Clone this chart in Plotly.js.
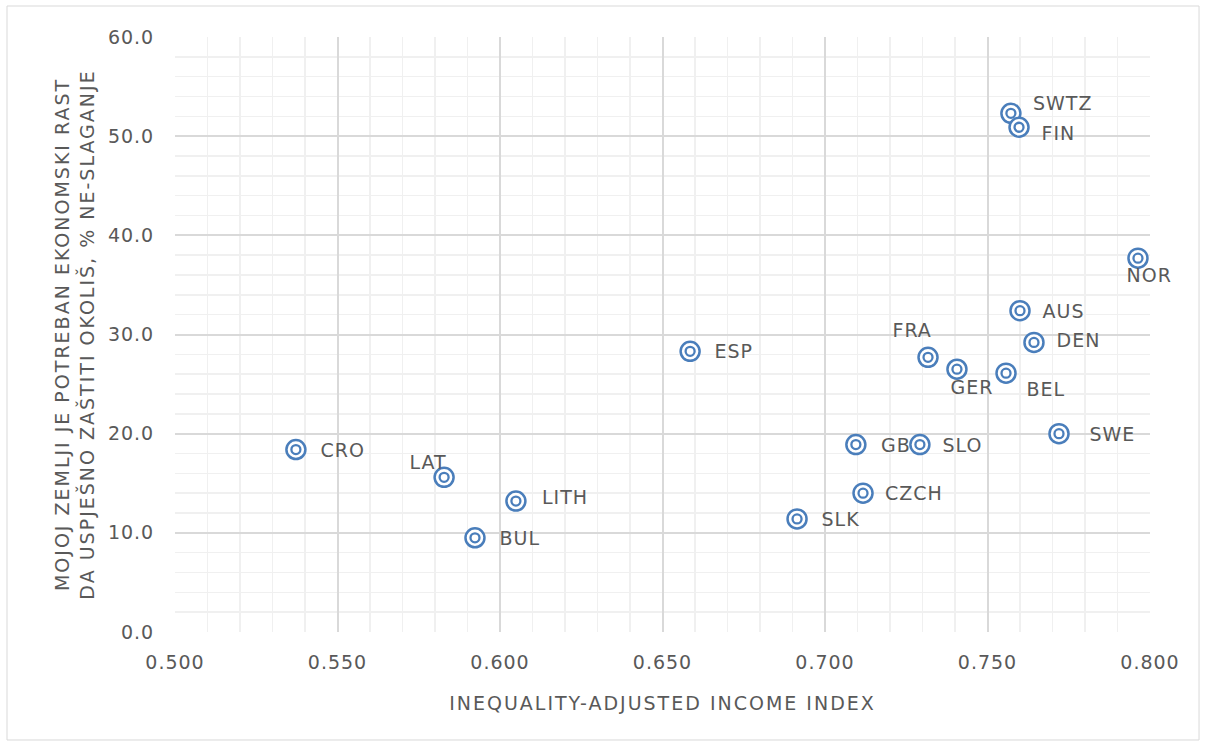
<!DOCTYPE html>
<html>
<head>
<meta charset="utf-8">
<script src="https://cdn.plot.ly/plotly-3.0.1.min.js"></script>
<style>
html,body{margin:0;padding:0;background:#fff;}
#chart{width:1206px;height:745px;}
#chart .xtitle, #chart .ytitle{letter-spacing:2px;}
#chart .xtick text, #chart .ytick text, #chart .annotation-text{letter-spacing:1px;}
</style>
</head>
<body>
<div id="chart"></div>
<script>
var countries = ["SWTZ","FIN","NOR","AUS","DEN","FRA","GER","BEL","SWE","ESP","GB","SLO","CZCH","SLK","CRO","LAT","LITH","BUL"];
var incomeIndex = [0.7572,0.7597,0.7963,0.7600,0.7643,0.7317,0.7406,0.7557,0.7720,0.6585,0.7095,0.7292,0.7117,0.6914,0.5372,0.5828,0.6049,0.5923];
var disagreePct = [52.3,50.9,37.7,32.4,29.2,27.7,26.5,26.1,20.0,28.3,18.9,18.9,14.0,11.4,18.4,15.6,13.2,9.5];

// label placement (style only): [xanchor, xshift, yshift]
var labelPos = {
  "SWTZ":["left",22,10], "FIN":["left",22,-6], "NOR":["center",11,-17],
  "AUS":["left",22,0], "DEN":["left",22,2], "FRA":["center",-16,27],
  "GER":["center",15,-18], "BEL":["center",40,-16], "SWE":["left",30,0],
  "ESP":["left",24,0], "GB":["left",24,0], "SLO":["left",22,0],
  "CZCH":["left",22,0], "SLK":["left",24,0], "CRO":["left",24,0],
  "LAT":["center",-16,15], "LITH":["left",26,4], "BUL":["left",24,0]
};

var blue = "#4a7ebb";
var txt = "#595959";
var fontFam = "'Century Gothic','DejaVu Sans',sans-serif";
var fs = 19;

var outer = {
  x: incomeIndex, y: disagreePct, type: "scatter", mode: "markers",
  marker: {symbol: "circle", size: 19, color: "rgba(255,255,255,1)", line: {color: blue, width: 2.5}},
  hoverinfo: "text", text: countries, showlegend: false
};
var inner = {
  x: incomeIndex, y: disagreePct, type: "scatter", mode: "markers",
  marker: {symbol: "circle-open", size: 9, color: blue, line: {color: blue, width: 2.3}},
  hoverinfo: "skip", showlegend: false
};

var annotations = countries.map(function(c, i){
  var p = labelPos[c];
  return {x: incomeIndex[i], y: disagreePct[i], xref: "x", yref: "y", text: c,
    showarrow: false, xanchor: p[0], yanchor: "middle", xshift: p[1], yshift: p[2],
    font: {family: fontFam, size: fs, color: txt}};
});

var layout = {
  width: 1206, height: 745,
  margin: {l: 175, r: 56, t: 37, b: 113},
  paper_bgcolor: "#ffffff", plot_bgcolor: "#ffffff",
  font: {family: fontFam, size: fs, color: txt},
  xaxis: {
    range: [0.5, 0.8], dtick: 0.05, tick0: 0.5, tickformat: ".3f",
    showgrid: true, gridcolor: "#d9d9d9", gridwidth: 2,
    minor: {dtick: 0.01, showgrid: true, gridcolor: "#f0f0f0", gridwidth: 1.5},
    zeroline: false, showline: false,
    ticks: "outside", ticklen: 13, tickcolor: "rgba(0,0,0,0)",
    tickfont: {family: fontFam, size: fs, color: txt},
    title: {text: "INEQUALITY-ADJUSTED INCOME INDEX", standoff: 24, font: {family: fontFam, size: fs, color: txt}}
  },
  yaxis: {
    range: [0, 60], dtick: 10, tickformat: ".1f",
    showgrid: true, gridcolor: "#d9d9d9", gridwidth: 2,
    minor: {dtick: 2, showgrid: true, gridcolor: "#f0f0f0", gridwidth: 1.5},
    zeroline: false, showline: false,
    ticks: "outside", ticklen: 16, tickcolor: "rgba(0,0,0,0)",
    tickfont: {family: fontFam, size: fs, color: txt},
    title: {text: "MOJOJ ZEMLJI JE POTREBAN EKONOMSKI RAST<br>DA USPJEŠNO ZAŠTITI OKOLIŠ, % NE-SLAGANJE", standoff: 12, font: {family: fontFam, size: fs, color: txt}}
  },
  shapes: [{type: "rect", xref: "paper", yref: "paper", x0: -0.1723, x1: 1.0503, y0: -0.1815, y1: 1.0521,
    line: {color: "#d9d9d9", width: 1}, fillcolor: "rgba(0,0,0,0)", layer: "below"}],
  annotations: annotations
};

Plotly.newPlot("chart", [outer, inner], layout, {displayModeBar: false, staticPlot: true});
</script>
</body>
</html>
